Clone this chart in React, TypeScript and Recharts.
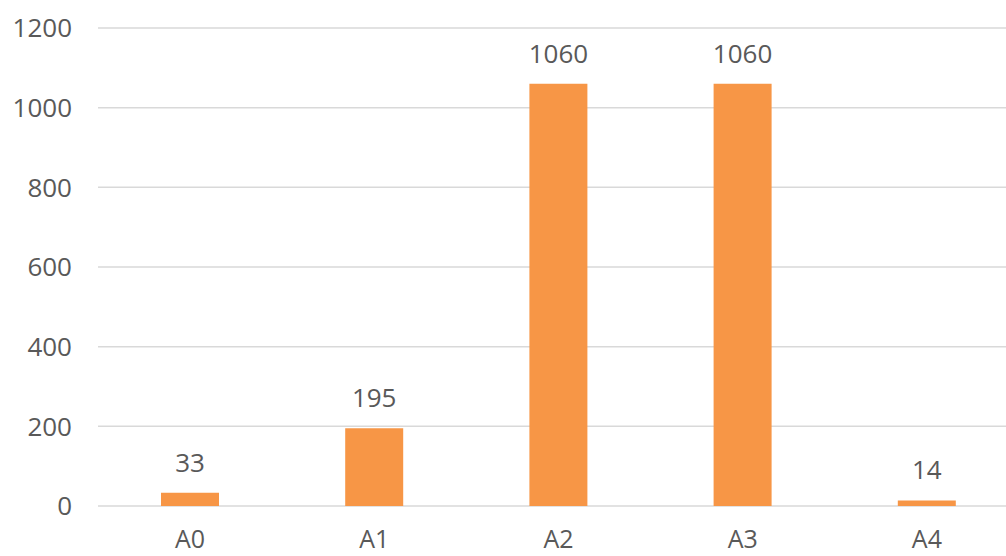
import React from 'react';
import { BarChart, Bar, XAxis, YAxis, CartesianGrid, LabelList } from 'recharts';

const categories = ['A0', 'A1', 'A2', 'A3', 'A4'];
const values = [33, 195, 1060, 1060, 14];
const yTicks = [0, 200, 400, 600, 800, 1000, 1200];

const data = categories.map((name, i) => ({ name, value: values[i] }));

const FONT = '"Open Sans", "Noto Sans", sans-serif';
const TEXT = '#595959';

const App: React.FC = () => {
  return (
    <div style={{ position: 'fixed', left: 0, top: 0, width: 1006, height: 556, overflow: 'hidden', background: '#fff' }}>
      <BarChart
        width={1030}
        height={556}
        data={data}
        margin={{ top: 28, right: 11, left: 0, bottom: 0 }}
        barCategoryGap={0}
      >
        <CartesianGrid vertical={false} stroke="#D9D9D9" strokeWidth={1.5} />
        <XAxis
          dataKey="name"
          axisLine={false}
          tickLine={false}
          tickSize={0}
          tickMargin={24}
          height={50}
          tick={{ fill: TEXT, fontSize: 25, fontFamily: FONT }}
        />
        <YAxis
          width={98}
          domain={[0, 1200]}
          ticks={yTicks}
          axisLine={false}
          tickLine={false}
          tickSize={0}
          tickMargin={26}
          tick={{ fill: TEXT, fontSize: 26, fontFamily: FONT }}
        />
        <Bar dataKey="value" fill="#F79646" barSize={58} isAnimationActive={false}>
          <LabelList
            dataKey="value"
            position="top"
            offset={21}
            fill={TEXT}
            fontSize={26}
            fontFamily={FONT}
          />
        </Bar>
      </BarChart>
    </div>
  );
};

export default App;
